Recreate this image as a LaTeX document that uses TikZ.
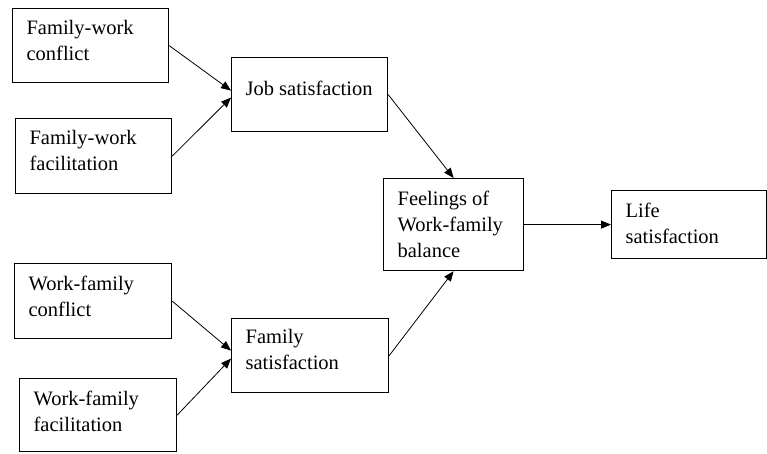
\documentclass[tikz,border=0pt]{standalone}
\usepackage{fontspec}
\setmainfont{Liberation Serif}
\newfontfamily\boxfont{Liberation Serif}
\usepackage{tikz}
\usetikzlibrary{arrows.meta,calc,positioning}
\newcommand{\boxtext}[4][12]{\parbox[c][#3][t]{#2}{\vspace*{#1pt}\raggedright\leftskip=14pt\relax #4}}
\tikzset{
    mybox/.style={draw=black,line width=1.2pt,anchor=north west,inner sep=0pt,
      font=\boxfont\fontsize{20.5}{26}\selectfont},
    myarrow/.style={-{Triangle[length=10pt,width=8pt]},line width=0.8pt,draw=black}
}

\begin{document}
\begin{tikzpicture}[x=1pt,y=-1pt]
  \useasboundingbox (0,0) rectangle (767,453);
  \node[mybox] (fwc) at (12,8) {\boxtext{156pt}{74pt}{Family-work\\conflict}};
  \node[mybox] (fwf) at (15,118) {\boxtext{156pt}{75pt}{Family-work\\facilitation}};
  \node[mybox] (job) at (231,57) {\boxtext[23]{156pt}{74pt}{Job satisfaction}};
  \node[mybox] (wfc) at (14,263) {\boxtext{157pt}{75pt}{Work-family\\conflict}};
  \node[mybox] (wff) at (19,378) {\boxtext{157pt}{73pt}{Work-family\\facilitation}};
  \node[mybox] (fam) at (231,318) {\boxtext[11]{157pt}{74pt}{Family\\satisfaction}};
  \node[mybox] (bal) at (383,178) {\boxtext{140pt}{92pt}{Feelings of\\Work-family\\balance}};
  \node[mybox] (life) at (611,190) {\boxtext{155pt}{68pt}{Life\\satisfaction}};
  % arrows
  \draw[myarrow] (fwc.east) -- ($(job.west)+(0,-4)$);
  \draw[myarrow] (fwf.east) -- ($(job.west)+(0,3)$);
  \draw[myarrow] (wfc.east) -- ($(fam.west)+(0,-5)$);
  \draw[myarrow] (wff.east) -- ($(fam.west)+(0,3)$);
  \draw[myarrow] (job.east) -- (bal.north);
  \draw[myarrow] (fam.east) -- (bal.south);
  \draw[myarrow] (bal.east) -- (life.west);
\end{tikzpicture}
\end{document}
